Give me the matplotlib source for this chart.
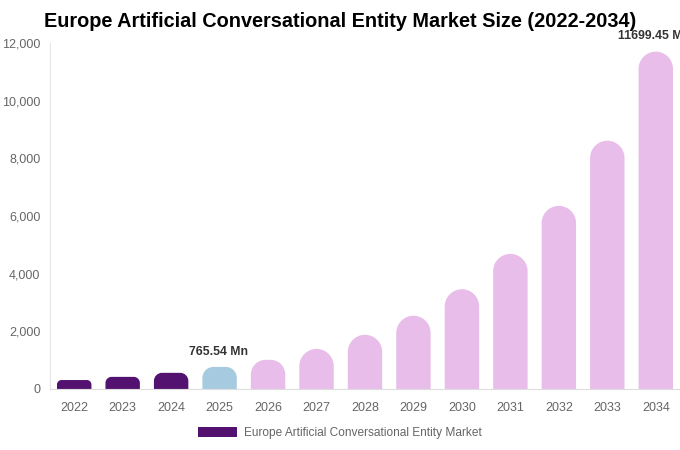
import matplotlib
matplotlib.use("Agg")
import matplotlib.pyplot as plt
from matplotlib.path import Path
from matplotlib.patches import PathPatch, Patch

plt.rcParams["font.family"] = ["Liberation Sans", "DejaVu Sans"]

# Data (USD Mn)
years = ["2022", "2023", "2024", "2025", "2026", "2027", "2028",
         "2029", "2030", "2031", "2032", "2033", "2034"]
values = [310, 420, 560, 765.54, 1010, 1390, 1880,
          2540, 3460, 4685, 6350, 8610, 11699.45]
bar_colors = ["#541270"] * 3 + ["#a6cbe0"] + ["#e8bde9"] * 9
labelled = {"2025": "765.54 Mn", "2034": "11699.45 Mn"}
legend_label = "Europe Artificial Conversational Entity Market"
title = "Europe Artificial Conversational Entity Market Size (2022-2034)"

fig = plt.figure(figsize=(6.8, 4.5), dpi=100)
ax = fig.add_axes([0.0735, 0.1356, 0.9265, 0.7689])
ax.set_xlim(-0.5, len(years) - 0.5)
ax.set_ylim(0, 12000)

# data units per pixel in each direction
fig.canvas.draw()
bbox = ax.get_window_extent()
ux = (len(years)) / bbox.width
uy = 12000 / bbox.height

bar_w = 0.71
bars = ax.bar(range(len(years)), values, width=bar_w, color=bar_colors)


def rounded_top(x0, w, h, rpx):
    rx, ry = rpx * ux, rpx * uy
    k = 0.5523
    verts = [
        (x0, 0), (x0, h - ry),
        (x0, h - ry + k * ry), (x0 + rx - k * rx, h), (x0 + rx, h),
        (x0 + w - rx, h),
        (x0 + w - rx + k * rx, h), (x0 + w, h - ry + k * ry), (x0 + w, h - ry),
        (x0 + w, 0), (x0, 0),
    ]
    codes = [Path.MOVETO, Path.LINETO,
             Path.CURVE4, Path.CURVE4, Path.CURVE4,
             Path.LINETO,
             Path.CURVE4, Path.CURVE4, Path.CURVE4,
             Path.LINETO, Path.CLOSEPOLY]
    return Path(verts, codes)


# swap plain rectangles for bars with rounded tops
for b in bars:
    x0, w, h = b.get_x(), b.get_width(), b.get_height()
    wpx, hpx = w / ux, h / uy
    r = min(wpx / 2, hpx / 2)
    ax.add_patch(PathPatch(rounded_top(x0, w, h, r),
                           facecolor=b.get_facecolor(), edgecolor="none"))
    b.set_visible(False)

for i, yr in enumerate(years):
    if yr in labelled:
        ax.text(i - 0.03, values[i] + 320, labelled[yr], ha="center", va="bottom",
                fontsize=8.8, fontweight="bold", color="#333333", clip_on=False)

ax.set_xticks(range(len(years)))
ax.set_xticklabels(years)
ax.set_yticks(range(0, 12001, 2000))
ax.set_yticklabels([f"{v:,}" for v in range(0, 12001, 2000)])
ax.tick_params(axis="both", length=0, labelsize=9, colors="#666666")
ax.tick_params(axis="x", pad=9.5)
ax.tick_params(axis="y", pad=7)
for s in ["top", "right"]:
    ax.spines[s].set_visible(False)
ax.spines["left"].set_color("#e6e6e6")
ax.spines["bottom"].set_color("#dddddd")

fig.text(0.5, 0.953, title, ha="center", va="center",
         fontsize=14.35, fontweight="bold", color="#000000")

fig.legend(handles=[Patch(facecolor="#541270", label=legend_label)],
           loc="center", bbox_to_anchor=(0.5, 0.038), frameon=False,
           fontsize=8.6, labelcolor="#666666", handlelength=3.3, handleheight=1.0,
           handletextpad=0.55)

fig.savefig("out.png", dpi=100)
